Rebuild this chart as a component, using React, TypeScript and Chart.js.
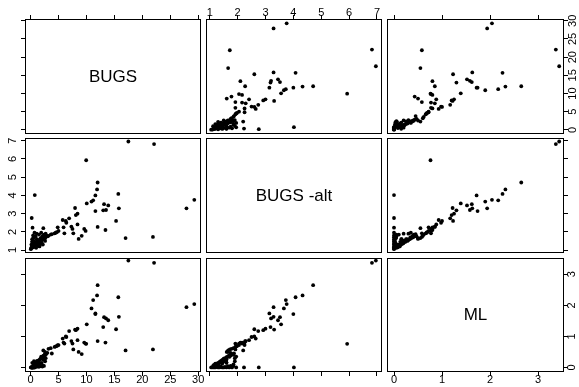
import React, { useEffect, useRef } from "react";
import { Chart, registerables } from "chart.js";

Chart.register(...registerables);

// ---------- data ----------
const VAR_NAMES = ["BUGS", "BUGS -alt", "ML"];

const BUGS = [
  17.5, 22.1, 29.3, 27.9, 9.95, 0.2, 0.75, 0.35, 21.9, 17.0,
  12.0, 11.9, 11.6, 15.7, 11.2, 10.9, 10.05, 13.15, 13.9, 15.8,
  13.0, 13.5, 11.6, 15.3, 12.0, 13.4, 7.96, 8.4, 8.1, 6.9,
  6.3, 5.75, 6.4, 8.4, 7.3, 5.9, 7.5, 9.6, 9.85, 6.05,
  7.65, 9.15, 8.6, 4.85, 4.7, 4.3, 3.8, 3.2, 2.58, 2.28,
  4.5, 3.6, 5.0,
  0.05, 0.1, 0.2, 0.3, 0.15, 0.4, 0.25, 0.5, 0.35, 0.6,
  0.45, 0.7, 0.9, 1.2, 1.5, 1.8, 2.1, 2.4, 1.0, 1.6,
  2.2, 0.5, 0.8, 1.0, 1.2, 1.4, 1.6, 1.3, 1.8, 2.0,
  1.7, 2.2, 2.4, 2.1, 2.6, 2.3, 2.8, 2.5, 3.0, 0.7,
  0.9, 1.1,
  1.5, 0.9, 2.0, 2.6, 1.3, 2.3, 1.9, 0.6, 1.7, 2.7,
  1.1, 0.3,
];

const BUGS_ALT = [
  6.96, 6.82, 3.76, 3.29, 5.93, 2.76, 4.02, 2.23, 1.72, 1.66,
  4.71, 4.33, 4.0, 4.08, 3.73, 3.66, 3.56, 3.52, 3.45, 3.29,
  3.18, 3.2, 3.14, 2.6, 2.27, 2.1, 3.31, 3.0, 2.92, 2.74,
  2.6, 2.65, 2.5, 2.41, 2.29, 2.25, 2.16, 2.16, 2.05, 1.92,
  1.92, 1.78, 1.61, 2.25, 1.98, 1.92, 1.87, 1.78, 1.65, 2.2,
  1.95, 1.85, 2.05,
  1.05, 1.1, 1.15, 1.2, 1.3, 1.35, 1.45, 1.5, 1.6, 1.7,
  1.8, 1.95, 1.25, 1.4, 1.55, 1.65, 1.75, 1.85, 1.12, 1.2,
  1.3, 1.15, 1.2, 1.3, 1.35, 1.4, 1.45, 1.5, 1.5, 1.55,
  1.6, 1.6, 1.65, 1.7, 1.7, 1.75, 1.8, 1.85, 1.75, 1.3,
  1.45, 1.6,
  1.85, 1.75, 1.4, 1.5, 1.25, 1.6, 1.95, 1.4, 1.3, 1.9,
  1.9, 1.6,
];

const ML = [
  3.44, 3.37, 2.04, 1.94, 0.76, 0.0, 0.0, 0.0, 0.58, 0.55,
  2.65, 2.32, 1.72, 2.26, 2.17, 1.9, 1.39, 1.62, 1.52, 1.63,
  1.3, 1.58, 1.74, 1.23, 0.85, 0.8, 1.22, 1.25, 1.2, 1.17,
  1.0, 0.93, 0.98, 0.88, 0.85, 0.8, 0.77, 0.8, 0.77, 0.77,
  0.58, 0.43, 0.5, 0.72, 0.69, 0.66, 0.45, 0.6, 0.5, 0.55,
  0.68, 0.62, 0.72,
  0.0, 0.0, 0.0, 0.0, 0.0, 0.0, 0.0, 0.0, 0.0, 0.0,
  0.0, 0.0, 0.02, 0.03, 0.02, 0.04, 0.03, 0.05, 0.05, 0.04,
  0.06, 0.08, 0.12, 0.15, 0.18, 0.2, 0.24, 0.22, 0.28, 0.3,
  0.27, 0.33, 0.36, 0.34, 0.4, 0.38, 0.43, 0.41, 0.47, 0.1,
  0.13, 0.16,
  0.1, 0.05, 0.15, 0.2, 0.12, 0.25, 0.35, 0.2, 0.12, 0.3,
  0.2, 0.15,
];

const BUGS_TICKS = [0, 5, 10, 15, 20, 25, 30];
const ALT_TICKS = [1, 2, 3, 4, 5, 6, 7];
const ML_TICKS = [0, 1, 2, 3];

// ---------- layout / scale settings ----------
const VARS = [BUGS, BUGS_ALT, ML];
const TICKS = [BUGS_TICKS, ALT_TICKS, ML_TICKS];
const RANGES = [
  [-1.0, 30.5],
  [0.866, 7.18],
  [-0.146, 3.54],
];

const W = 579;
const H = 387;
const COLS = [
  [25, 201],
  [206, 382],
  [387, 564],
];
const ROWS = [
  [19, 133.5],
  [137.5, 252.5],
  [257.5, 372],
];

const FONT = '"Liberation Sans", Arial, Helvetica, sans-serif';

function makeScale(
  vi: number,
  horizontal: boolean,
  position: string | null,
  showLabels: boolean,
  pad: number,
  size: number
) {
  const range = RANGES[vi];
  const ticks = TICKS[vi];
  return {
    type: "linear",
    position: position ?? (horizontal ? "bottom" : "left"),
    display: !!position,
    min: range[0],
    max: range[1],
    afterBuildTicks: (s: any) => {
      s.ticks = ticks.map((v) => ({ value: v }));
    },
    afterFit: (s: any) => {
      if (horizontal) s.height = size;
      else s.width = size;
    },
    grid: {
      display: true,
      drawOnChartArea: false,
      drawTicks: true,
      tickLength: 4,
      color: "#000",
      lineWidth: 1,
    },
    border: { display: false },
    ticks: {
      display: showLabels,
      autoSkip: false,
      minRotation: horizontal ? 0 : 90,
      maxRotation: horizontal ? 0 : 90,
      padding: pad,
      crossAlign: horizontal ? "near" : "center",
      color: "#000",
      font: { family: FONT, size: 11, lineHeight: 1 },
    },
  };
}

function Panel({ r, c }: { r: number; c: number }) {
  const ref = useRef<HTMLCanvasElement | null>(null);

  useEffect(() => {
    if (!ref.current) return;
    const [left, right] = COLS[c];
    const [top, bottom] = ROWS[r];
    const pad = { left: left, right: W - right, top: top, bottom: H - bottom };

    // which outer axes this panel carries
    let xPos: string | null = null;
    let xLabels = false;
    let xPad = 0;
    let xSize = 0;
    if (r === 0) {
      xPos = "top";
      xLabels = c === 1;
      xPad = -3;
      xSize = pad.top;
      pad.top = 0;
    } else if (r === 2) {
      xPos = "bottom";
      xLabels = c === 0 || c === 2;
      xPad = -2;
      xSize = pad.bottom;
      pad.bottom = 0;
    }
    let yPos: string | null = null;
    let yLabels = false;
    let yPad = 0;
    let ySize = 0;
    if (c === 0) {
      yPos = "left";
      yLabels = r === 1;
      yPad = 5;
      ySize = pad.left;
      pad.left = 0;
    } else if (c === 2) {
      yPos = "right";
      yLabels = r === 0 || r === 2;
      yPad = r === 0 ? -1.5 : 0.6;
      ySize = pad.right;
      pad.right = 0;
    }

    const diag = r === c;
    const points = diag
      ? []
      : VARS[c].map((v, i) => ({ x: v, y: VARS[r][i] }));

    const framePlugin = {
      id: "frame" + r + c,
      afterDraw(chart: any) {
        const ctx = chart.ctx;
        const a = chart.chartArea;
        ctx.save();
        ctx.strokeStyle = "#000";
        ctx.lineWidth = 1;
        const x0 = Math.round(a.left) + 0.5;
        const y0 = Math.round(a.top) + 0.5;
        const x1 = Math.round(a.right) - 0.5;
        const y1 = Math.round(a.bottom) - 0.5;
        ctx.strokeRect(x0, y0, x1 - x0, y1 - y0);
        if (diag) {
          ctx.fillStyle = "#000";
          ctx.font = "17px " + FONT;
          ctx.textAlign = "center";
          ctx.textBaseline = "middle";
          ctx.fillText(VAR_NAMES[r], (a.left + a.right) / 2, (a.top + a.bottom) / 2 + 1);
        }
        ctx.restore();
      },
    };

    const chart = new Chart(ref.current, {
      type: "scatter",
      data: {
        datasets: [
          {
            data: points,
            backgroundColor: "#000",
            borderColor: "#000",
            borderWidth: 0,
            pointRadius: 1.9,
            pointHoverRadius: 1.9,
          },
        ],
      },
      options: {
        responsive: false,
        animation: false,
        devicePixelRatio: 1,
        events: [],
        layout: {
          autoPadding: false,
          padding: pad,
        },
        plugins: {
          legend: { display: false },
          tooltip: { enabled: false },
          title: { display: false },
        },
        scales: {
          x: makeScale(c, true, xPos, xLabels, xPad, xSize) as any,
          y: makeScale(r, false, yPos, yLabels, yPad, ySize) as any,
        },
      },
      plugins: [framePlugin],
    });
    return () => chart.destroy();
  }, [r, c]);

  return (
    <canvas
      ref={ref}
      width={W}
      height={H}
      style={{ position: "absolute", left: 0, top: 0, width: W, height: H }}
    />
  );
}

export default function App() {
  const cells: { r: number; c: number }[] = [];
  for (let r = 0; r < 3; r++) for (let c = 0; c < 3; c++) cells.push({ r, c });
  return (
    <div
      style={{
        position: "fixed",
        left: 0,
        top: 0,
        width: W,
        height: H,
        background: "#fff",
        overflow: "hidden",
      }}
    >
      {cells.map(({ r, c }) => (
        <Panel key={`${r}-${c}`} r={r} c={c} />
      ))}
    </div>
  );
}
